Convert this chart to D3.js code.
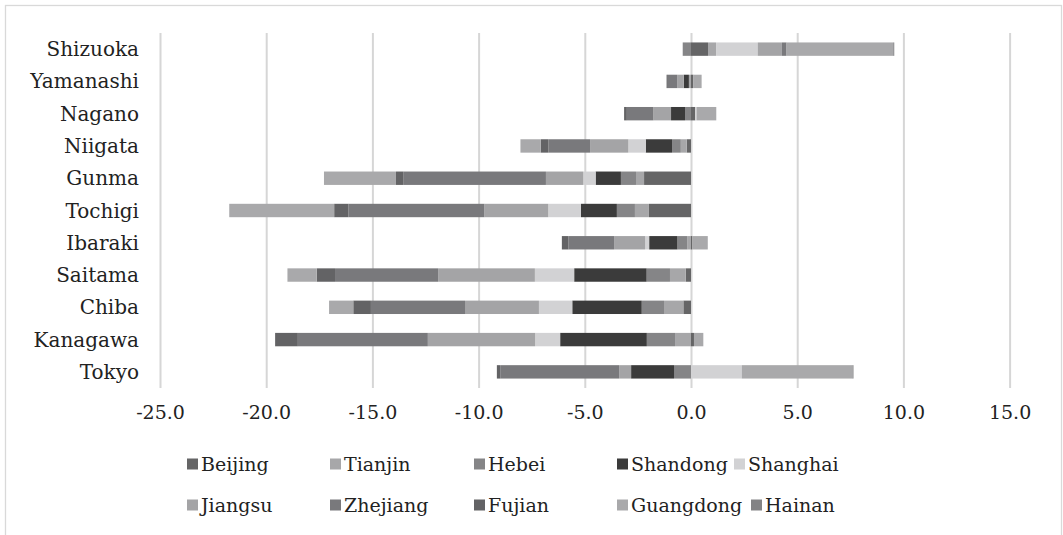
<!DOCTYPE html>
<html>
<head>
<meta charset="utf-8">
<script src="https://cdn.jsdelivr.net/npm/d3@7"></script>
<style>
  html, body { margin: 0; padding: 0; background: #fff; }
  svg { display: block; font-family: "DejaVu Serif", "Liberation Serif", serif; }
</style>
</head>
<body>
<svg id="chart" width="1063" height="535"></svg>
<script>
// Prefectures, listed from the bottom row upward
const categories = ["Tokyo", "Kanagawa", "Chiba", "Saitama", "Ibaraki", "Tochigi",
                    "Gunma", "Niigata", "Nagano", "Yamanashi", "Shizuoka"];

// Contribution of each Chinese province, one value per prefecture above
const Beijing   = [0.00,  0.14, -0.36, -0.25,  0.05, -1.98, -2.21, -0.20,  0.20,  0.10, 0.80];
const Tianjin   = [0.00, -0.75, -0.91, -0.74, -0.17, -0.66, -0.38, -0.28,  0.00, -0.10, 0.38];
const Hebei     = [-0.80, -1.33, -1.05, -1.10, -0.47, -0.85, -0.71, -0.41, -0.28, 0.00, -0.39];
const Shandong  = [-2.02, -4.08, -3.27, -3.41, -1.33, -1.69, -1.19, -1.24, -0.66, -0.24, 0.00];
const Shanghai  = [2.39, -1.18, -1.57, -1.85, -0.19, -1.54, -0.58, -0.82,  0.06,  0.00, 1.96];
const Jiangsu   = [-0.56, -5.05, -3.48, -4.55, -1.46, -3.01, -1.76, -1.80, -0.83, -0.31, 1.14];
const Zhejiang  = [-5.60, -6.12, -4.43, -4.86, -2.15, -6.40, -6.72, -1.96, -1.25, -0.44, 0.22];
const Fujian    = [-0.16, -1.07, -0.83, -0.86, -0.31, -0.67, -0.34, -0.36, -0.13, -0.06, 0.00];
const Guangdong = [5.21,  0.44, -1.14, -1.38,  0.74, -4.94, -3.39, -0.96,  0.93,  0.40, 5.02];
const Hainan    = [0.05,  0.00,  0.00,  0.00,  0.00,  0.00,  0.00,  0.00,  0.00,  0.00, 0.05];

const seriesNames = ["Beijing", "Tianjin", "Hebei", "Shandong", "Shanghai",
                     "Jiangsu", "Zhejiang", "Fujian", "Guangdong", "Hainan"];
const seriesValues = [Beijing, Tianjin, Hebei, Shandong, Shanghai,
                      Jiangsu, Zhejiang, Fujian, Guangdong, Hainan];
const seriesColors = ["#656566", "#a7a7a9", "#858587", "#3b3b3b", "#d2d2d4",
                      "#a4a4a6", "#79797c", "#636365", "#a9a9ab", "#838385"];

const tickValues = [-25, -20, -15, -10, -5, 0, 5, 10, 15];

// Build one row per prefecture for d3.stack
const rows = categories.map((c, i) => {
  const r = { category: c };
  seriesNames.forEach((s, j) => { r[s] = seriesValues[j][i]; });
  return r;
});

const svg = d3.select("#chart");

// Outer chart frame
svg.append("rect")
  .attr("x", 5.5).attr("y", 5.5)
  .attr("width", 1056).attr("height", 560)
  .attr("fill", "none").attr("stroke", "#d9d9d9").attr("stroke-width", 1.3);

const plot = { left: 160, right: 1009.6, top: 33, bottom: 388 };

const x = d3.scaleLinear().domain([-25, 15]).range([plot.left, plot.right]);
const y = d3.scaleBand()
  .domain(categories.slice().reverse())
  .range([plot.top, plot.bottom])
  .paddingInner(0.585)
  .paddingOuter(0.2925);

const fmt = d3.formatLocale({ decimal: ".", thousands: ",", grouping: [3],
                              currency: ["", ""], minus: "-" }).format(".1f");

// Vertical gridlines
svg.append("g")
  .attr("transform", `translate(0,${plot.bottom})`)
  .call(d3.axisBottom(x).tickValues(tickValues).tickSize(-(plot.bottom - plot.top)).tickFormat(""))
  .call(g => g.select(".domain").remove())
  .call(g => g.selectAll(".tick line").attr("stroke", "#d6d6d6").attr("stroke-width", 2));

// Stacked bars, negatives stacked left of zero
const stack = d3.stack().keys(seriesNames).offset(d3.stackOffsetDiverging);
const layers = stack(rows);

svg.append("g").selectAll("g")
  .data(layers)
  .join("g")
  .attr("fill", (d, i) => seriesColors[i])
  .selectAll("rect")
  .data(d => d)
  .join("rect")
  .attr("x", d => x(Math.min(d[0], d[1])))
  .attr("width", d => Math.abs(x(d[1]) - x(d[0])))
  .attr("y", d => y(d.data.category))
  .attr("height", y.bandwidth());

// Value axis labels
svg.append("g")
  .attr("transform", `translate(0,${plot.bottom})`)
  .call(d3.axisBottom(x).tickValues(tickValues).tickSize(0).tickPadding(18).tickFormat(fmt))
  .call(g => g.select(".domain").remove())
  .call(g => g.selectAll("text")
    .attr("font-family", "DejaVu Serif, serif")
    .attr("font-size", 19).attr("fill", "#222"));

// Category labels
svg.append("g").selectAll("text")
  .data(categories)
  .join("text")
  .attr("x", 139)
  .attr("y", d => y(d) + y.bandwidth() / 2)
  .attr("dy", "0.35em")
  .attr("text-anchor", "end")
  .attr("font-size", 20)
  .attr("fill", "#222")
  .text(d => d);

// Legend in two rows
const legendX = [187, 330, 474, 617, 734, 187, 330, 474, 617, 751];
const legendY = [464, 464, 464, 464, 464, 505, 505, 505, 505, 505];
const legend = svg.append("g").selectAll("g")
  .data(seriesNames)
  .join("g")
  .attr("transform", (d, i) => `translate(${legendX[i]},${legendY[i]})`);
legend.append("rect")
  .attr("x", 0).attr("y", -5.5)
  .attr("width", 11).attr("height", 11)
  .attr("fill", (d, i) => seriesColors[i]);
legend.append("text")
  .attr("x", 14).attr("dy", "0.35em")
  .attr("font-size", 19)
  .attr("fill", "#222")
  .text(d => d);
</script>
</body>
</html>
